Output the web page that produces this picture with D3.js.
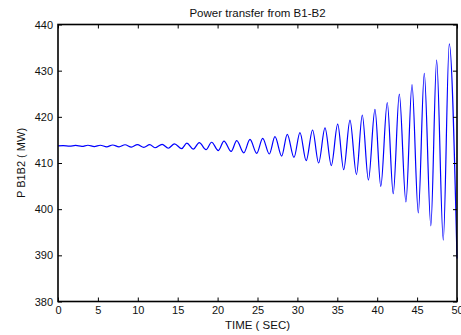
<!DOCTYPE html>
<html>
<head>
<meta charset="utf-8">
<script src="https://cdn.jsdelivr.net/npm/d3@7"></script>
<style>
  body { margin: 0; background: #fff; }
  svg text { font-family: "Liberation Sans", Arial, sans-serif; fill: #111; }
</style>
</head>
<body>
<div id="chart"></div>
<script>
// values (extrema of the oscillation)
var startPoint = [0, 413.7],
    endPoint = [50, 389.3];

var peakTimes = [0.65, 2.2, 3.75, 5.3, 6.85, 8.4, 9.95, 11.5, 13.05, 14.6, 16.15, 17.7, 19.25, 20.8,
                 22.4, 24.06, 25.65, 27.19, 28.73, 30.32, 31.9, 33.46, 35.05, 36.59, 38.13, 39.72,
                 41.26, 42.77, 44.36, 45.9, 47.45, 49.03];
var peakValues = [413.75, 413.8, 413.85, 413.85, 413.9, 413.95, 414.0, 414.0, 414.05, 414.15, 414.3, 414.4, 414.5, 414.75,
                  414.85, 415.1, 415.35, 415.7, 416.2, 416.6, 417.15, 417.6, 418.4, 419.3, 420.4, 421.6,
                  423.1, 424.9, 427.0, 429.4, 432.3, 435.8];

var troughTimes = [1.45, 3.0, 4.55, 6.1, 7.65, 9.2, 10.75, 12.15, 13.82, 15.5, 16.95, 18.55, 20.09, 21.7,
                   23.28, 24.9, 26.48, 28.03, 29.57, 31.1, 32.66, 34.25, 35.8, 37.4, 38.9, 40.45,
                   42.01, 43.6, 45.15, 46.72, 48.28];
var troughValues = [413.65, 413.6, 413.55, 413.5, 413.5, 413.45, 413.4, 413.3, 413.2, 413.1, 413.0, 412.9, 412.7, 412.5,
                    412.2, 412.1, 411.95, 411.5, 411.2, 410.5, 410.0, 409.45, 408.55, 407.5, 406.3, 404.95,
                    403.35, 401.55, 399.2, 396.4, 393.3];

var xTicks = [0, 5, 10, 15, 20, 25, 30, 35, 40, 45, 50],
    yTicks = [380, 390, 400, 410, 420, 430, 440];

var PowerPlot = (function () {
    var svg, x, y,
        width, height,
        margin = {top: 24.5, right: 4, bottom: 33.5, left: 58},
        tickLen = 4;

    function initialize(containerId, w, h) {
        width = w - margin.left - margin.right;
        height = h - margin.top - margin.bottom;

        svg = d3.select("#" + containerId).append("svg")
            .attr("width", w)
            .attr("height", h);

        x = d3.scaleLinear().domain([0, 50]).range([0, width]);
        y = d3.scaleLinear().domain([380, 440]).range([height, 0]);

        return this;
    }

    function _points() {
        var pts = [startPoint];
        peakTimes.forEach(function (t, i) { pts.push([t, peakValues[i]]); });
        troughTimes.forEach(function (t, i) { pts.push([t, troughValues[i]]); });
        pts.push(endPoint);
        return pts.sort(function (a, b) { return a[0] - b[0]; });
    }

    function draw() {
        var g = svg.append("g")
            .attr("transform", "translate(" + margin.left + "," + margin.top + ")");

        var line = d3.line()
            .x(function (d) { return x(d[0]); })
            .y(function (d) { return y(d[1]); })
            .curve(d3.curveMonotoneX);

        g.append("path")
            .datum(_points())
            .attr("fill", "none")
            .attr("stroke", "#0000ff")
            .attr("stroke-width", 1.2)
            .attr("d", line);

        // axes, ticks pointing inward like matlab
        var bottom = g.append("g").attr("transform", "translate(0," + height + ")")
            .call(d3.axisBottom(x).tickValues(xTicks).tickSizeInner(-tickLen).tickSizeOuter(0).tickPadding(5));
        var left = g.append("g")
            .call(d3.axisLeft(y).tickValues(yTicks).tickSizeInner(-tickLen).tickSizeOuter(0).tickPadding(5));
        var top = g.append("g")
            .call(d3.axisTop(x).tickValues(xTicks).tickSizeInner(-tickLen).tickSizeOuter(0).tickFormat(""));
        var right = g.append("g").attr("transform", "translate(" + width + ",0)")
            .call(d3.axisRight(y).tickValues(yTicks).tickSizeInner(-tickLen).tickSizeOuter(0).tickFormat(""));

        [bottom, left, top, right].forEach(function (a) {
            a.select(".domain").remove();
            a.selectAll(".tick line").attr("stroke", "#000");
            a.selectAll("text").attr("font-size", "11px").attr("font-family", null).attr("fill", "#111");
        });

        g.append("rect")
            .attr("width", width)
            .attr("height", height)
            .attr("fill", "none")
            .attr("stroke", "#000")
            .attr("stroke-width", 1.6);

        svg.append("text")
            .attr("x", margin.left + width / 2)
            .attr("y", 16.5)
            .attr("text-anchor", "middle")
            .attr("font-size", "11.5px")
            .text("Power transfer from B1-B2");

        svg.append("text")
            .attr("x", margin.left + width / 2)
            .attr("y", 329)
            .attr("text-anchor", "middle")
            .attr("font-size", "11.5px")
            .text("TIME ( SEC)");

        svg.append("text")
            .attr("transform", "translate(24.5," + (margin.top + height / 2) + ") rotate(-90)")
            .attr("text-anchor", "middle")
            .attr("font-size", "11px")
            .text("P B1B2 ( MW)");
    }

    return {
        initialize: initialize,
        draw: draw
    };
})();

PowerPlot.initialize("chart", 461, 335).draw();
</script>
</body>
</html>
